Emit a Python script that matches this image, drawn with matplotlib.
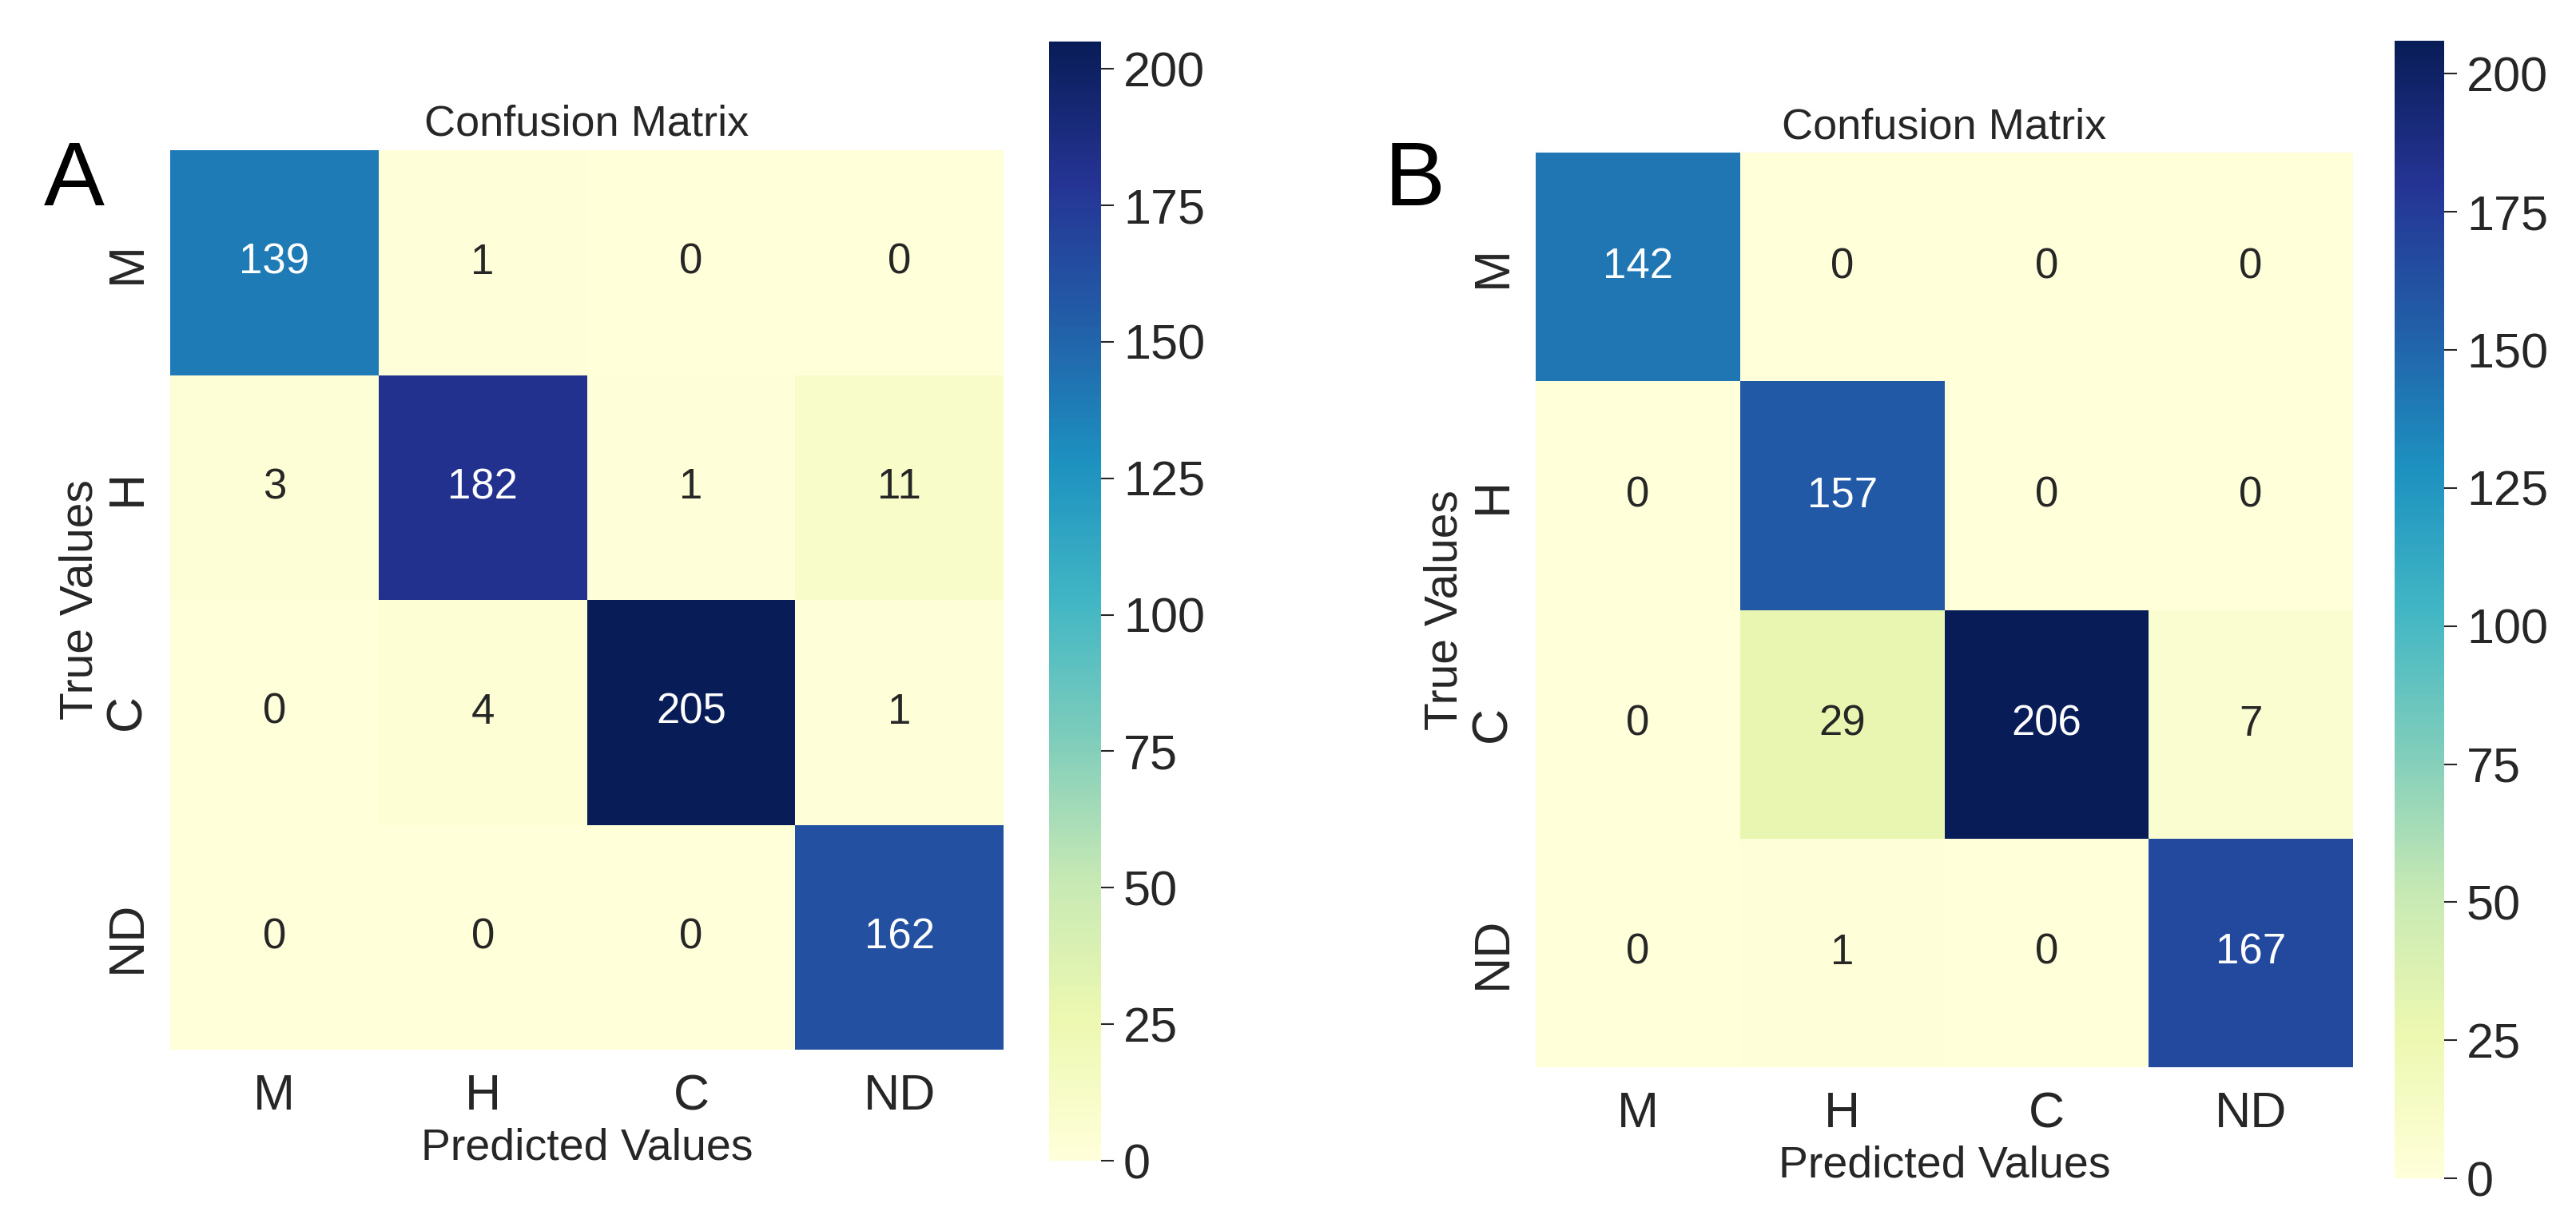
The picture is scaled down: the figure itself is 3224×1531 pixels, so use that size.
import matplotlib
matplotlib.use('Agg')
import matplotlib.pyplot as plt
import seaborn as sns

# confusion matrices
labels = ['M', 'H', 'C', 'ND']
matrix_a = [[139, 1, 0, 0],
            [3, 182, 1, 11],
            [0, 4, 205, 1],
            [0, 0, 0, 162]]
matrix_b = [[142, 0, 0, 0],
            [0, 157, 0, 0],
            [0, 29, 206, 7],
            [0, 1, 0, 167]]
cbar_ticks = [0, 25, 50, 75, 100, 125, 150, 175, 200]

sns.set_style('white')
plt.rcParams['font.family'] = ['Liberation Sans Narrow', 'Liberation Sans', 'DejaVu Sans']
plt.rcParams['text.color'] = '.15'
plt.rcParams['axes.labelcolor'] = '.15'
plt.rcParams['xtick.color'] = '.15'
plt.rcParams['ytick.color'] = '.15'

W, H = 3224, 1531
DPI = 100
fig = plt.figure(figsize=(W / DPI, H / DPI), dpi=DPI)


def px_axes(left, top, right, bottom):
    return fig.add_axes([left / W, 1 - bottom / H, (right - left) / W, (bottom - top) / H])


def px2pt(p):
    return p * 72 / DPI


def confusion(data, hm_box, cb_box, letter, letter_xy):
    ax = px_axes(*hm_box)
    cax = px_axes(*cb_box)
    sns.heatmap(data, annot=True, fmt='d', cmap='YlGnBu', ax=ax, cbar_ax=cax,
                xticklabels=labels, yticklabels=labels,
                annot_kws={'fontsize': 38})
    ax.set_aspect('auto')
    ax_h = hm_box[3] - hm_box[1]
    ax_w = hm_box[2] - hm_box[0]

    ax.set_title('Confusion Matrix', fontsize=39, pad=px2pt(18))
    ax.set_xlabel('Predicted Values', fontsize=40)
    ax.xaxis.set_label_coords(0.5, -137 / ax_h)
    ax.xaxis.label.set_va('baseline')
    ax.set_ylabel('True Values', fontsize=41)
    ax.yaxis.set_label_coords(-98 / ax_w, 0.5)
    ax.yaxis.label.set_va('baseline')

    ax.tick_params(axis='x', length=0, pad=px2pt(75), labelsize=45)
    for t in ax.get_xticklabels():
        t.set_va('baseline')
    ax.tick_params(axis='y', length=0, pad=px2pt(54), labelsize=45)
    for t in ax.get_yticklabels():
        t.set_rotation(90)
        t.set_ha('center')
        t.set_va('center')

    cax.set_yticks(cbar_ticks)
    cax.tick_params(length=px2pt(16), width=1.5, pad=px2pt(12), labelsize=44, color='.15')

    fig.text(letter_xy[0] / W, 1 - letter_xy[1] / H, letter, fontsize=82,
             color='black', ha='left', va='baseline', family=['Liberation Sans', 'DejaVu Sans'])


confusion(matrix_a, (213, 188, 1256, 1314), (1313, 52, 1378, 1453), 'A', (55, 257))
confusion(matrix_b, (1922, 191, 2945, 1336), (2997, 51, 3059, 1475), 'B', (1733, 257))

fig.savefig('out.png', dpi=DPI)
